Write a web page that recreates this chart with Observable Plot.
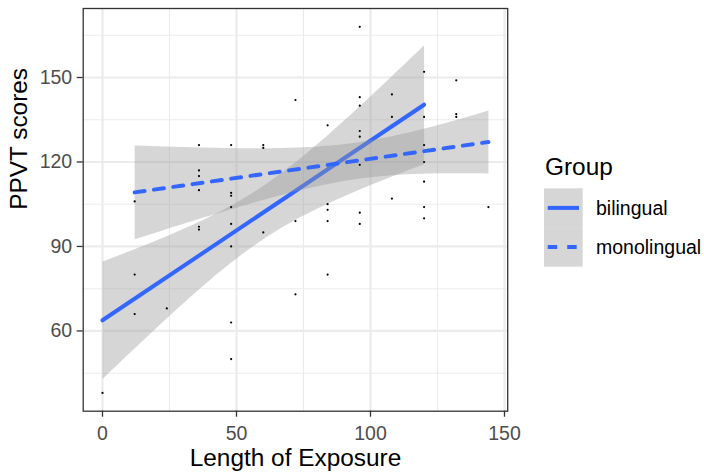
<!DOCTYPE html>
<html><head><meta charset="utf-8">
<script src="https://cdn.jsdelivr.net/npm/d3@7"></script>
<script src="https://cdn.jsdelivr.net/npm/@observablehq/plot@0.6"></script>
<style>
body{margin:0;background:#fff;font-family:"Liberation Sans",Arial,sans-serif;}
#wrap{position:relative;width:704px;height:473px;}
#legend{position:absolute;left:520px;top:140px;}
</style></head><body><div id="wrap"></div>
<script>
// Data
const exposure=[0,12,12,12,24,36,36,36,36,36,36,48,48,48,48,48,48,48,48,60,60,60,72,72,72,84,84,84,84,84,96,96,96,96,96,96,96,96,108,108,108,120,120,120,120,120,120,120,132,132,132,144];
const ppvt=[38,106,80,66,68,126,117,115,110,97,96,126,109,108,104,98,90,63,50,126,125,95,142,99,73,133,105,103,99,80,168,143,140,131,129,119,102,98,144,136,107,152,136,126,120,113,104,100,149,137,136,104];
const group=["bilingual","monolingual","bilingual","bilingual","bilingual","monolingual","monolingual","bilingual","monolingual","bilingual",
"bilingual","bilingual","bilingual","bilingual","bilingual","bilingual","bilingual","bilingual","bilingual","monolingual",
"bilingual","bilingual","bilingual","bilingual","bilingual","monolingual","monolingual","monolingual","monolingual","bilingual",
"bilingual","bilingual","bilingual","bilingual","monolingual","monolingual","monolingual","bilingual","bilingual","monolingual",
"monolingual","monolingual","monolingual","monolingual","monolingual","monolingual","bilingual","monolingual","monolingual","monolingual",
"monolingual","monolingual"];
const groups=["bilingual","monolingual"];
const xMajor=[0,50,100,150], xMinor=[25,75,125];
const yMajor=[60,90,120,150], yMinor=[45,75,105,135,165];

const data=exposure.map((x,i)=>({exposure:x,ppvt:ppvt[i],group:group[i]}));
const font="Liberation Sans, Arial, Helvetica, sans-serif";
const chart=Plot.plot({
  width:704,height:473,
  marginLeft:82.7,marginRight:196.8,marginTop:8,marginBottom:62.3,
  style:{fontFamily:font,background:"#fff",color:"#000",overflow:"visible"},
  x:{domain:[-7.2,151.2]},
  y:{domain:[31.5,174.5]},
  marks:[
    Plot.gridX(xMinor,{stroke:"#EBEBEB",strokeOpacity:1,strokeWidth:1.1}),
    Plot.gridY(yMinor,{stroke:"#EBEBEB",strokeOpacity:1,strokeWidth:1.1}),
    Plot.gridX(xMajor,{stroke:"#EBEBEB",strokeOpacity:1,strokeWidth:2.2}),
    Plot.gridY(yMajor,{stroke:"#EBEBEB",strokeOpacity:1,strokeWidth:2.2}),
    Plot.linearRegressionY(data.filter(d=>d.group===groups[0]),{x:"exposure",y:"ppvt",stroke:"#3366FF",strokeWidth:4,fill:"#999999",fillOpacity:0.4}),
    Plot.linearRegressionY(data.filter(d=>d.group===groups[1]),{x:"exposure",y:"ppvt",stroke:"#3366FF",strokeWidth:4,strokeDasharray:"10,9.5",fill:"#999999",fillOpacity:0.4}),
    Plot.dot(data,{x:"exposure",y:"ppvt",r:1.1,fill:"#000",stroke:null}),
    Plot.frame({stroke:"#333333",strokeWidth:1.3}),
    Plot.axisX(xMajor,{tickSize:6,tickPadding:9.4,stroke:"#333333",strokeWidth:1.3,fill:"#4D4D4D",fontSize:19.5,label:null}),
    Plot.axisY(yMajor,{tickSize:6,tickPadding:5,stroke:"#333333",strokeWidth:1.3,fill:"#4D4D4D",fontSize:19.5,label:null}),
    Plot.text(["Length of Exposure"],{text:d=>d,frameAnchor:"bottom",dy:46.5,lineAnchor:"middle",fontSize:24.4,fill:"#000"}),
    Plot.text(["PPVT scores"],{text:d=>d,frameAnchor:"left",dx:-63.8,rotate:-90,lineAnchor:"middle",fontSize:24.4,fill:"#000"})
  ]
});
document.getElementById("wrap").appendChild(chart);

// Legend
const lg=d3.select("#wrap").append("svg").attr("id","legend").attr("width",184).attr("height",140)
  .style("font-family",font);
lg.append("text").attr("x",25).attr("y",34.5).attr("font-size",24.4).attr("fill","#000").text("Group");
groups.forEach((gname,i)=>{
  const y0=48.3+i*39.2;
  lg.append("rect").attr("x",24).attr("y",y0).attr("width",38.7).attr("height",39.2).attr("fill","#999999").attr("fill-opacity",0.4);
  lg.append("line").attr("x1",27.7).attr("x2",59).attr("y1",y0+19.6).attr("y2",y0+19.6)
    .attr("stroke","#3366FF").attr("stroke-width",4).attr("stroke-dasharray",i?"9.5,10":null);
  lg.append("text").attr("x",76).attr("y",y0+19.6+7).attr("font-size",19.5).attr("fill","#000").text(gname);
});
</script></body></html>
